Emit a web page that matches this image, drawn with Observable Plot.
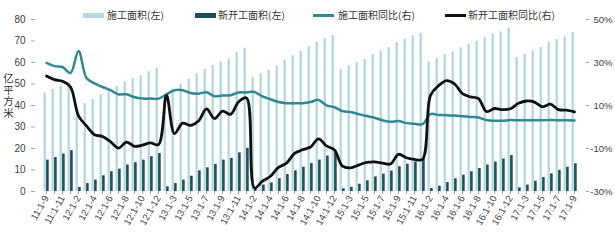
<!DOCTYPE html>
<html><head><meta charset="utf-8">
<script src="https://cdn.jsdelivr.net/npm/d3@7"></script>
<script src="https://cdn.jsdelivr.net/npm/@observablehq/plot@0.6"></script>
<style>
html,body{margin:0;padding:0;background:#fff;}
#wrap{position:relative;width:615px;height:240px;font-family:"Liberation Sans","Noto Sans CJK SC",sans-serif;}
.lg{position:absolute;top:8px;font-size:10px;line-height:14px;color:#333;font-family:"Noto Sans CJK SC","Liberation Sans",sans-serif;white-space:nowrap;}
.sw{position:absolute;}
#unit{position:absolute;left:2px;top:73px;font-size:10.5px;line-height:12px;letter-spacing:1px;writing-mode:vertical-rl;text-orientation:upright;color:#333;font-family:"Noto Sans CJK SC",sans-serif;}
</style></head>
<body><div id="wrap"></div>
<script>
const categories = [
 "11:1-9","11:1-10","11:1-11","11:1-12",
 "12:1-2","12:1-3","12:1-4","12:1-5","12:1-6","12:1-7","12:1-8","12:1-9","12:1-10","12:1-11","12:1-12",
 "13:1-2","13:1-3","13:1-4","13:1-5","13:1-6","13:1-7","13:1-8","13:1-9","13:1-10","13:1-11","13:1-12",
 "14:1-2","14:1-3","14:1-4","14:1-5","14:1-6","14:1-7","14:1-8","14:1-9","14:1-10","14:1-11","14:1-12",
 "15:1-2","15:1-3","15:1-4","15:1-5","15:1-6","15:1-7","15:1-8","15:1-9","15:1-10","15:1-11","15:1-12",
 "16:1-2","16:1-3","16:1-4","16:1-5","16:1-6","16:1-7","16:1-8","16:1-9","16:1-10","16:1-11","16:1-12",
 "17:1-2","17:1-3","17:1-4","17:1-5","17:1-6","17:1-7","17:1-8","17:1-9"
];
// 施工面积(左) 亿平方米
const underConstruction = [
 45.8,47.5,48.9,50.8,
 38.9,40.9,42.8,45.0,46.6,48.8,50.9,52.5,53.8,55.7,57.3,
 44.9,47.6,49.9,52.2,54.8,56.7,58.6,60.3,61.6,64.6,66.6,
 53.0,54.8,56.4,58.4,61.0,63.1,65.2,67.3,69.3,71.2,72.6,
 56.7,58.4,60.0,61.4,63.7,65.4,67.0,69.3,70.8,72.4,73.6,
 60.3,61.8,63.7,64.9,66.8,68.4,69.9,71.6,73.2,74.2,75.9,
 62.3,63.8,65.4,67.0,69.3,70.7,71.9,73.8
];
// 新开工面积(左) 亿平方米
const newStarts = [
 14.6,15.8,17.4,19.0,
 1.9,3.7,5.3,7.3,9.2,10.4,12.3,13.4,14.6,16.2,17.7,
 2.2,3.7,5.3,7.1,9.6,11.0,12.6,14.6,15.4,18.0,20.1,
 1.6,3.0,4.0,6.0,7.9,9.6,11.3,13.0,14.6,16.5,18.0,
 1.3,2.0,3.4,5.0,6.8,8.1,9.5,11.5,12.7,13.7,15.4,
 1.4,2.5,4.2,5.9,7.6,9.2,10.7,12.3,13.7,15.1,16.7,
 1.7,3.0,4.8,6.5,8.2,9.8,11.3,12.9
];
// 施工面积同比(右) %
const constructionYoY = [
 29.8,28.3,27.9,25.1,
 35.4,22.8,20.3,18.6,17.1,15.2,15.2,13.8,13.2,13.2,13.2,
 15.2,17.1,17.1,15.8,15.5,16.2,14.3,14.6,14.8,16.0,16.1,
 16.3,14.2,12.9,11.6,11.1,11.1,11.1,11.6,12.6,10.1,9.2,
 7.4,7.0,6.0,5.1,4.3,3.1,2.4,2.8,1.8,1.5,1.3,
 6.0,5.6,5.5,5.3,5.0,4.7,4.4,3.2,2.9,2.9,3.2,
 3.1,3.1,3.1,3.1,3.3,3.1,3.1,3.0
];
// 新开工面积同比(右) %
const newStartsYoY = [
 23.7,22.0,21.3,18.6,
 5.2,0.5,-3.6,-4.4,-6.8,-9.8,-7.0,-9.0,-8.4,-7.4,-8.2,
 14.7,-3.1,1.8,0.8,2.8,8.4,3.9,7.4,5.9,11.6,13.5,
 -28.4,-25.2,-22.9,-18.8,-16.8,-12.3,-10.6,-9.3,-5.5,-8.8,-10.7,
 -18.2,-19.0,-17.7,-16.5,-16.2,-16.8,-17.2,-12.7,-14.3,-15.1,-15.0,
 14.7,19.2,21.6,20.1,15.5,14.0,13.2,7.2,8.6,8.1,8.5,
 11.0,12.1,11.6,9.4,10.6,8.1,7.8,7.0
];
const leftTicks = [0,10,20,30,40,50,60,70,80];
const rightTicks = [50,30,10,-10,-30];
const rightOffset = 30; // right axis value + 30 = left axis value
const unitLabel = "亿平方米";

const colors = {light:"#b5d9e2", dark:"#1d4f5a", teal:"#2f8893", black:"#111111", axis:"#a6a6a6"};

const data = categories.map((c,i)=>({c, uc: underConstruction[i], ns: newStarts[i], ucy: constructionYoY[i], nsy: newStartsYoY[i]}));

const chart = Plot.plot({
  width: 615, height: 240,
  marginTop: 19, marginBottom: 49, marginLeft: 35, marginRight: 30,
  x: {type: "band", domain: categories, padding: 0},
  y: {domain: [0, 80]},
  style: {fontFamily: '"Liberation Sans","Noto Sans CJK SC",sans-serif', fontSize: "10px", color: "#404040", background: "#fff", overflow: "visible"},
  marks: [
    Plot.barY(data, {x: "c", y: "uc", fill: colors.light, insetLeft: 1.5, insetRight: 4.1}),
    Plot.barY(data, {x: "c", y: "ns", fill: colors.dark, insetLeft: 4.1, insetRight: 1.3}),
    Plot.line(data, {x: "c", y: d => d.ucy + rightOffset, stroke: colors.teal, strokeWidth: 2.5, curve: "catmull-rom"}),
    Plot.line(data, {x: "c", y: d => d.nsy + rightOffset, stroke: colors.black, strokeWidth: 2.8, curve: "catmull-rom"}),
    Plot.axisY({anchor: "left", ticks: leftTicks, tickSize: 4, tickPadding: 6, stroke: colors.axis, line: true, label: null}),
    Plot.axisY({anchor: "right", ticks: rightTicks.map(v => v + rightOffset), tickFormat: d => `${d - rightOffset}%`, tickSize: 3, tickPadding: 24, textAnchor: "end", fontSize: 9.5, stroke: colors.axis, line: true, label: null}),
    Plot.axisX({ticks: categories, tickFormat: d => categories.indexOf(d) % 2 === 0 ? d : "", tickRotate: -60, tickSize: 3, tickPadding: 2, fontSize: 9.5, stroke: colors.axis, line: true, label: null})
  ]
});
const wrap = document.getElementById("wrap");
wrap.appendChild(chart);

const legend = [
  {label: "施工面积(左)", kind: "bar", color: colors.light, sx: 83, tx: 107},
  {label: "新开工面积(左)", kind: "bar", color: colors.dark, sx: 195, tx: 218},
  {label: "施工面积同比(右)", kind: "line", color: colors.teal, sx: 313, tx: 338},
  {label: "新开工面积同比(右)", kind: "line", color: colors.black, sx: 445, tx: 468}
];
legend.forEach(l => {
  const s = document.createElement("div");
  s.className = "sw";
  s.style.left = l.sx + "px";
  s.style.width = "21px";
  s.style.background = l.color;
  if (l.kind === "bar") { s.style.top = "12.5px"; s.style.height = "5px"; }
  else { s.style.top = "13.5px"; s.style.height = "3px"; }
  wrap.appendChild(s);
  const t = document.createElement("div");
  t.className = "lg";
  t.style.left = l.tx + "px";
  t.textContent = l.label;
  wrap.appendChild(t);
});
const u = document.createElement("div");
u.id = "unit";
u.textContent = unitLabel;
wrap.appendChild(u);
</script>
</body></html>
